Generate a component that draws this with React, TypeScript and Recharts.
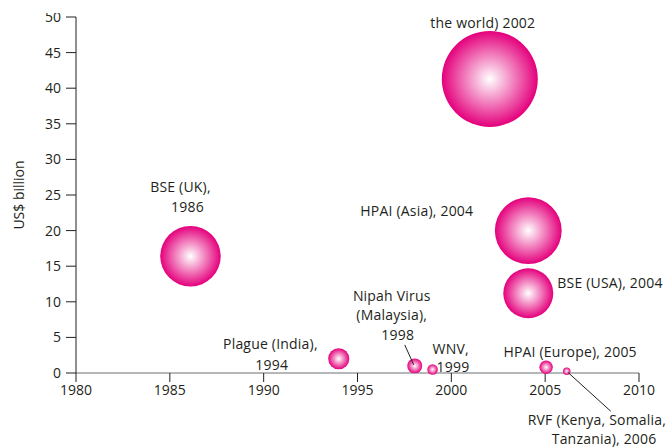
import { Scatter, ScatterChart, XAxis, YAxis, ZAxis } from "recharts";

// outbreak events: year, cost (US$ billion); bubble area follows the cost
const events = [
  "BSE (UK)",
  "Plague (India)",
  "Nipah Virus (Malaysia)",
  "WNV",
  "the world) 2002",
  "HPAI (Asia)",
  "BSE (USA)",
  "HPAI (Europe)",
  "RVF (Kenya, Somalia, Tanzania)",
];
const years = [1986.1, 1994, 1998.05, 1999, 2002.05, 2004.1, 2004.1, 2005.05, 2006.15];
const costs = [16.4, 2.0, 1.0, 0.5, 41.3, 20.0, 11.2, 0.8, 0.25];

const xTicks = [1980, 1985, 1990, 1995, 2000, 2005, 2010];
const yTicks = [0, 5, 10, 15, 20, 25, 30, 35, 40, 45, 50];

const rows = events.map((name, i) => ({ name, year: years[i], value: costs[i] }));

const INK = "#231f20";
const PINK = "#e4007c";
const FONT = "'Open Sans', sans-serif";

type Line = { text: string; dx: number; dy: number; anchor: "start" | "middle" | "end" };
type Note = { lines: Line[]; leader?: [number, number, number, number] };

// label placement relative to each bubble centre
const notes: Note[] = [
  {
    lines: [
      { text: "BSE (UK),", dx: -10, dy: -70, anchor: "middle" },
      { text: "1986", dx: -3, dy: -50, anchor: "middle" },
    ],
  },
  {
    lines: [
      { text: "Plague (India),", dx: -21, dy: -15, anchor: "end" },
      { text: "1994", dx: -67, dy: 6, anchor: "middle" },
    ],
  },
  {
    lines: [
      { text: "Nipah Virus", dx: -23, dy: -70, anchor: "middle" },
      { text: "(Malaysia),", dx: -23, dy: -51, anchor: "middle" },
      { text: "1998", dx: -17, dy: -31, anchor: "middle" },
    ],
    leader: [-10, -21, -1, -1],
  },
  {
    lines: [
      { text: "WNV,", dx: 0, dy: -21, anchor: "start" },
      { text: "1999", dx: 4, dy: -3, anchor: "start" },
    ],
  },
  { lines: [{ text: "the world) 2002", dx: -7, dy: -56, anchor: "middle" }] },
  { lines: [{ text: "HPAI (Asia), 2004", dx: -55, dy: -20, anchor: "end" }] },
  { lines: [{ text: "BSE (USA), 2004", dx: 29, dy: -11, anchor: "start" }] },
  { lines: [{ text: "HPAI (Europe), 2005", dx: 24, dy: -16, anchor: "middle" }] },
  {
    lines: [
      { text: "RVF (Kenya, Somalia,", dx: -39, dy: 48, anchor: "start" },
      { text: "Tanzania), 2006", dx: -15, dy: 67, anchor: "start" },
    ],
    leader: [1, 1, 44, 40],
  },
];

function Bubble(props: any) {
  const { cx, cy, width, index } = props;
  const r = width / 2;
  const note = notes[index];
  const id = `bub${index}`;
  return (
    <g>
      <defs>
        <radialGradient id={id} cx="50%" cy="50%" r="50%">
          <stop offset="0%" stopColor="#ffffff" />
          <stop offset="100%" stopColor={PINK} />
        </radialGradient>
      </defs>
      <circle cx={cx} cy={cy} r={r} fill={`url(#${id})`} />
      {note?.leader && (
        <line
          x1={cx + note.leader[0]}
          y1={cy + note.leader[1]}
          x2={cx + note.leader[2]}
          y2={cy + note.leader[3]}
          stroke={INK}
          strokeWidth={1}
        />
      )}
      {note?.lines.map((l) => (
        <text
          key={l.text}
          x={cx + l.dx}
          y={cy + l.dy}
          textAnchor={l.anchor}
          dominantBaseline="central"
          fontSize={14}
          letterSpacing={0.2}
          fontFamily={FONT}
          fill={INK}
        >
          {l.text}
        </text>
      ))}
    </g>
  );
}

export default function App() {
  return (
    <div
      style={{
        position: "absolute",
        left: 0,
        top: 0,
        width: 667,
        height: 447,
        background: "#fff",
        fontFamily: FONT,
      }}
    >
      {/* the source figure is cropped just above the top tick */}
      <div style={{ position: "absolute", left: 0, top: 13, width: 667, height: 434, overflow: "hidden" }}>
        <div style={{ position: "absolute", left: 0, top: -13 }}>
          <ScatterChart width={667} height={447} margin={{ top: 17, right: 28, bottom: 44, left: 0 }}>
            <XAxis
              type="number"
              dataKey="year"
              domain={[1980, 2010]}
              ticks={xTicks}
              height={30}
              tickSize={9}
              tickMargin={3}
              axisLine={{ stroke: "#6d6e71" }}
              tickLine={{ stroke: INK }}
              tick={{ fontSize: 14, fill: INK, fontFamily: FONT }}
            />
            <YAxis
              type="number"
              dataKey="value"
              domain={[0, 50]}
              ticks={yTicks}
              width={76}
              tickSize={10}
              tickMargin={5}
              axisLine={{ stroke: INK }}
              tickLine={{ stroke: INK }}
              tick={{ fontSize: 14, fill: INK, fontFamily: FONT }}
              label={{
                value: "US$ billion",
                angle: -90,
                position: "insideLeft",
                offset: 19,
                style: { textAnchor: "middle", fontSize: 14, fill: INK, fontFamily: FONT },
              }}
            />
            <ZAxis type="number" dataKey="value" domain={[0, 50]} range={[0, 8760]} />
            <Scatter data={rows} shape={<Bubble />} isAnimationActive={false} />
          </ScatterChart>
        </div>
      </div>
    </div>
  );
}
